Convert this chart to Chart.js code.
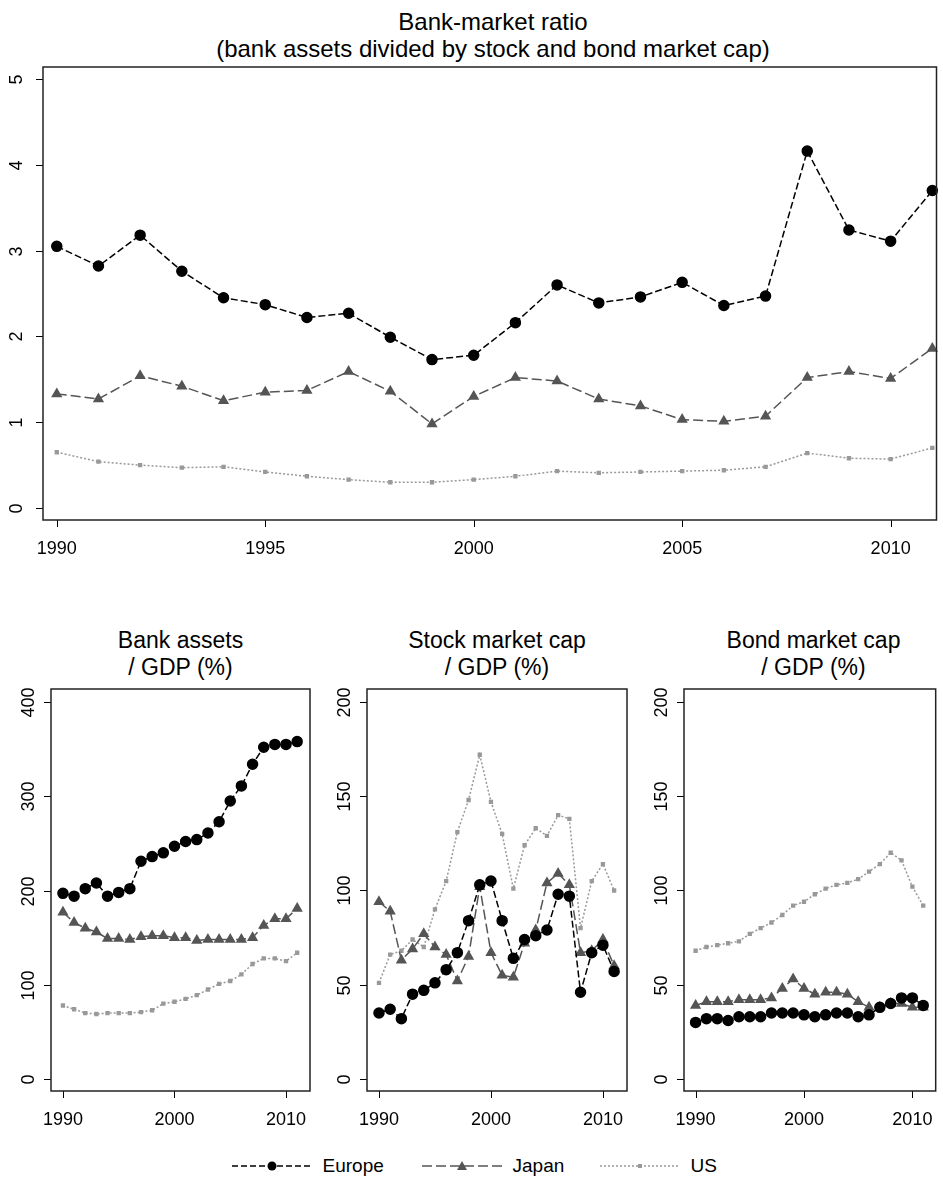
<!DOCTYPE html><html><head><meta charset="utf-8">
<script src="https://cdn.jsdelivr.net/npm/chart.js@4"></script>
<style>body{margin:0;width:943px;height:1180px;background:#fff;position:relative;font-family:"Liberation Sans",Arial,sans-serif;overflow:hidden}
canvas{position:absolute}.t{position:absolute;text-align:center;font-size:23px;line-height:27px;color:#000}
.lg{position:absolute;top:1155px;font-size:19px;display:flex;align-items:center}</style></head><body>
<div class="t" style="left:43px;width:900px;top:8px;font-size:24px;line-height:27px">Bank-market ratio<br>(bank assets divided by stock and bond market cap)</div>
<div class="t" style="left:51px;width:259px;top:627px">Bank assets<br>/ GDP (%)</div>
<div class="t" style="left:367px;width:260px;top:627px">Stock market cap<br>/ GDP (%)</div>
<div class="t" style="left:684px;width:259px;top:627px">Bond market cap<br>/ GDP (%)</div>
<div class="lg" style="left:232px"><svg width="80" height="14"><line x1="0" y1="7" x2="80" y2="7" stroke="#000" stroke-width="1.5" stroke-dasharray="6,3"/><circle cx="40" cy="7" r="4.5"/></svg>&nbsp;&nbsp;Europe</div>
<div class="lg" style="left:422px"><svg width="80" height="14"><line x1="0" y1="7" x2="80" y2="7" stroke="#555" stroke-width="1.5" stroke-dasharray="10,4"/><polygon points="40,2 45,11 35,11" fill="#555"/></svg>&nbsp;&nbsp;Japan</div>
<div class="lg" style="left:600px"><svg width="80" height="14"><line x1="0" y1="7" x2="80" y2="7" stroke="#999" stroke-width="1.5" stroke-dasharray="2,2"/><rect x="38" y="5" width="4" height="4" fill="#999"/></svg>&nbsp;&nbsp;US</div>
<canvas id="c0" style="left:0;top:0" width="943" height="560"></canvas>
<canvas id="c1" style="left:0;top:600px" width="320" height="540"></canvas>
<canvas id="c2" style="left:317px;top:600px" width="320" height="540"></canvas>
<canvas id="c3" style="left:634px;top:600px" width="309" height="540"></canvas>
<script>
const years=[];for(let y=1990;y<=2011;y++)years.push(y);
const ratioEurope=[3.05,2.82,3.18,2.76,2.45,2.37,2.22,2.27,1.99,1.73,1.78,2.16,2.60,2.39,2.46,2.63,2.36,2.47,4.16,3.24,3.11,3.70];
const ratioJapan=[1.33,1.27,1.54,1.42,1.25,1.35,1.37,1.59,1.36,0.98,1.30,1.52,1.48,1.27,1.19,1.03,1.01,1.07,1.52,1.59,1.51,1.86];
const ratioUS=[0.65,0.54,0.50,0.47,0.48,0.42,0.37,0.33,0.30,0.30,0.33,0.37,0.43,0.41,0.42,0.43,0.44,0.48,0.64,0.58,0.57,0.70];
const bankEurope=[197,194,202,208,194,198,202,231,236,240,247,252,254,261,273,295,311,334,352,355,355,358];
const bankJapan=[177,166,160,156,149,149,148,151,152,152,150,150,147,148,148,148,148,150,163,170,170,181];
const bankUS=[78,74,70,69,70,70,70,71,73,80,82,85,89,95,101,104,111,122,128,128,125,134];
const stockEurope=[35,37,32,45,47,51,58,67,84,103,105,84,64,74,76,79,98,97,46,67,71,57];
const stockJapan=[94,89,63,69,77,70,66,52,65,102,67,55,54,72,79,104,109,103,67,68,74,60];
const stockUS=[51,66,68,74,70,90,105,131,148,172,147,130,101,124,133,129,140,138,80,105,114,100];
const bondEurope=[30,32,32,31,33,33,33,35,35,35,34,33,34,35,35,33,34,38,40,43,43,39];
const bondJapan=[39,41,41,41,42,42,42,43,48,53,48,45,46,46,45,41,38,38,40,40,38,38];
const bondUS=[68,70,71,72,73,77,80,83,87,92,94,98,101,103,104,106,110,114,120,116,102,92];
const topTicks=[0,1,2,3,4,5],bankTicks=[0,100,200,300,400],capTicks=[0,50,100,150,200];
const xTopTicks=[1990,1995,2000,2005,2010],xBotTicks=[1990,2000,2010];
const F='"Liberation Sans",Arial,sans-serif';
const rotY={id:'rotY',afterDraw(ch){const o=ch.options.plugins.rotY,s=ch.scales.y,x=ch.scales.x,c=ch.ctx,a=ch.chartArea;c.save();
 c.font='18px '+F;c.fillStyle='#000';c.textAlign='center';c.textBaseline='bottom';c.strokeStyle='#000';c.lineWidth=1;
 o.ticks.forEach(v=>{const p=Math.round(s.getPixelForValue(v))+.5;c.save();c.translate(a.left-o.off,p);c.rotate(-Math.PI/2);c.fillText(String(v),0,0);c.restore();
 c.beginPath();c.moveTo(a.left-7,p);c.lineTo(a.left,p);c.stroke();});
 o.xt.forEach(v=>{const p=Math.round(x.getPixelForValue(v))+.5;c.beginPath();c.moveTo(p,a.bottom);c.lineTo(p,a.bottom+7);c.stroke();});
 c.lineWidth=1.5;c.strokeStyle='#222';c.strokeRect(a.left,a.top,a.right-a.left,a.bottom-a.top);c.restore();}};
function ds(e,j,u,big){return[
 {data:e.map((v,i)=>({x:years[i],y:v})),borderColor:'#000',backgroundColor:'#000',borderDash:[7,3],borderWidth:1.5,pointStyle:'circle',pointRadius:big?5:5},
 {data:j.map((v,i)=>({x:years[i],y:v})),borderColor:'#555',backgroundColor:'#555',borderDash:[10,4],borderWidth:1.5,pointStyle:'triangle',pointRadius:5},
 {data:u.map((v,i)=>({x:years[i],y:v})),borderColor:'#999',backgroundColor:'#999',borderDash:[2,2],borderWidth:1.5,pointStyle:'rect',pointRadius:2}];}
function mk(id,data,xmin,xmax,ymin,ymax,yt,xt,yw,xh,pad,off){
 new Chart(document.getElementById(id),{type:'line',data:{datasets:data},plugins:[rotY],
 options:{responsive:false,animation:false,clip:false,layout:{padding:pad},
 plugins:{legend:{display:false},tooltip:{enabled:false},rotY:{ticks:yt,xt:xt,off:off}},
 scales:{x:{type:'linear',min:xmin,max:xmax,grid:{display:false},border:{display:false},
  afterBuildTicks:s=>{s.ticks=xt.map(v=>({value:v}))},afterFit:s=>{s.height=xh},
  ticks:{color:'#000',font:{size:18,family:F},maxRotation:0,padding:10,callback:v=>String(v)}},
 y:{min:ymin,max:ymax,grid:{display:false},border:{display:false},ticks:{display:false},afterFit:s=>{s.width=yw}}}}});}
mk('c0',ds(ratioEurope,ratioJapan,ratioUS,true),1989.67,2011.1,-0.14,5.14,topTicks,xTopTicks,43,40,{top:67,right:0,left:0,bottom:0},17);
mk('c1',ds(bankEurope,bankJapan,bankUS),1988.93,2012.15,-12.7,413.8,bankTicks,xBotTicks,51,49,{top:89,right:10,bottom:0},13);
mk('c2',ds(stockEurope,stockJapan,stockUS),1988.93,2012.15,-6.4,206.9,capTicks,xBotTicks,50,49,{top:89,right:10,bottom:0},13);
mk('c3',ds(bondEurope,bondJapan,bondUS),1988.93,2012.15,-6.4,206.9,capTicks,xBotTicks,50,49,{top:89,right:-1,bottom:0},13);
</script></body></html>
